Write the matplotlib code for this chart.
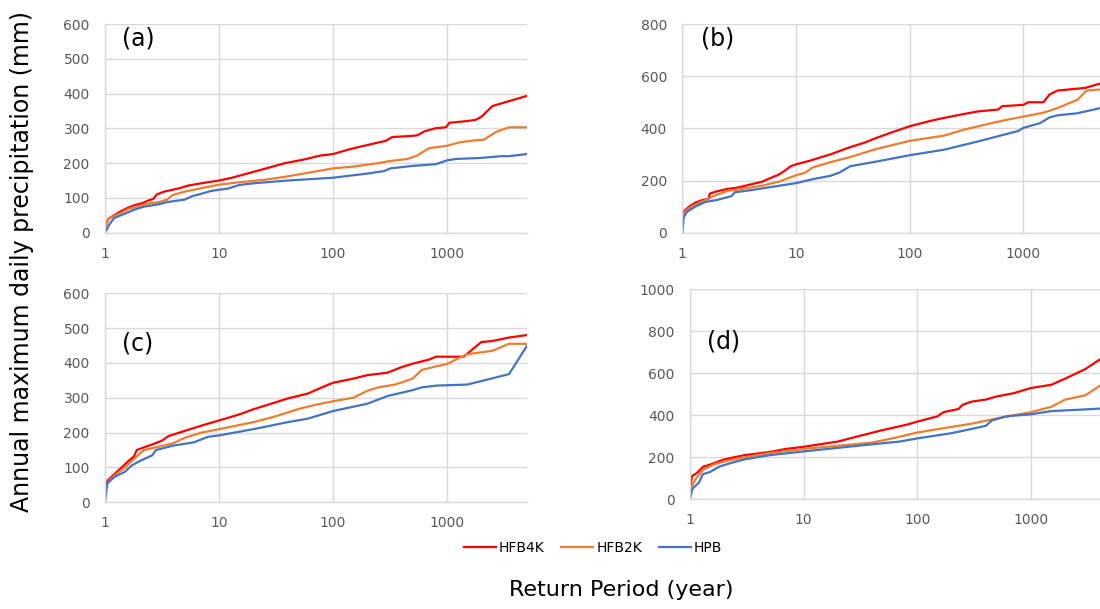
import numpy as np
import matplotlib
matplotlib.use("Agg")
import matplotlib.pyplot as plt

# return period (year) / annual max daily precipitation (mm), per panel and run
series_names = ["HFB4K", "HFB2K", "HPB"]
series_colors = ["#FF0000", "#ED7D31", "#4472C4"]

# (a)
a_t_4k = [1, 1.07, 1.2, 1.38, 1.6, 1.85, 2.13, 2.38, 2.65, 2.85, 3.3, 4.4, 5.45, 7.3, 10, 13, 18.6, 26.7,
          38, 55, 78, 100, 140, 200, 290, 330, 480, 550, 640, 790, 980, 1050, 1400, 1770, 2000, 2500, 3400, 5000]
a_v_4k = [15, 40, 50, 62, 72, 80, 85, 92, 97, 110, 118, 127, 136, 143, 150, 158, 172, 186,
          200, 210, 222, 226, 240, 252, 264, 275, 278, 280, 292, 300, 303, 316, 320, 324, 333, 364, 377, 393]
a_t_2k = [1, 1.07, 1.2, 1.4, 1.6, 2, 2.5, 3, 3.5, 3.9, 5, 7, 10, 15, 25, 40, 60, 100, 150, 250, 300,
          450, 550, 620, 700, 1000, 1300, 1800, 2100, 2700, 3500, 5000]
a_v_2k = [10, 40, 48, 58, 68, 77, 85, 88, 95, 108, 118, 128, 138, 145, 152, 162, 172, 185, 190, 200, 205,
          212, 222, 233, 243, 250, 260, 266, 267, 290, 303, 303]
a_t_pb = [1, 1.1, 1.2, 1.5, 1.8, 2.2, 3, 3.5, 5, 5.8, 7, 8.5, 12, 15, 20, 40, 100, 150, 200, 280, 320,
          500, 800, 1000, 1200, 2000, 3000, 3500, 5000]
a_v_pb = [0, 25, 42, 55, 66, 75, 82, 88, 95, 105, 112, 120, 127, 137, 142, 150, 158, 165, 170, 177, 185,
          192, 197, 208, 212, 215, 220, 220, 226]

# (b)
b_t_4k = [1, 1.05, 1.15, 1.3, 1.5, 1.7, 1.75, 2, 2.5, 3, 4, 5, 6, 7, 8, 9, 10, 13, 20, 30, 40, 50, 70,
          100, 150, 200, 300, 400, 600, 650, 1000, 1100, 1500, 1700, 2000, 3500, 5000]
b_v_4k = [60, 85, 100, 115, 125, 130, 150, 158, 168, 172, 185, 195, 210, 222, 238, 255, 262, 275, 300, 328,
          345, 362, 385, 408, 428, 440, 455, 465, 472, 485, 490, 500, 500, 530, 545, 555, 575]
b_t_2k = [1, 1.05, 1.2, 1.5, 2, 2.5, 3, 5, 7, 10, 12, 14, 20, 30, 50, 100, 200, 300, 500, 700, 1000,
          1500, 2000, 3000, 3600, 5000]
b_v_2k = [50, 80, 100, 120, 145, 160, 165, 180, 195, 220, 230, 250, 270, 290, 320, 352, 372, 395, 418,
          432, 445, 460, 478, 510, 545, 550]
b_t_pb = [1, 1.03, 1.1, 1.3, 1.6, 2, 2.7, 2.9, 4, 6, 10, 14, 20, 24, 30, 50, 100, 200, 400, 600, 900,
          1000, 1400, 1700, 2000, 3000, 5000]
b_v_pb = [0, 60, 80, 100, 118, 125, 140, 155, 163, 175, 190, 205, 218, 230, 255, 272, 297, 318, 350,
          370, 390, 402, 420, 442, 450, 458, 480]

# (c)
c_t_4k = [1, 1.05, 1.2, 1.4, 1.6, 1.8, 1.9, 2.3, 2.8, 3.2, 3.6, 5, 7, 10, 15, 20, 30, 40, 60, 80, 100,
          150, 200, 300, 400, 500, 700, 800, 1400, 2000, 2500, 3500, 5000]
c_v_4k = [40, 62, 80, 100, 118, 132, 150, 160, 170, 178, 190, 205, 220, 235, 252, 267, 285, 298, 312,
          330, 343, 355, 365, 372, 388, 398, 410, 418, 418, 460, 463, 473, 480]
c_t_2k = [1, 1.1, 1.3, 1.5, 1.8, 2.2, 3, 4, 5, 7, 10, 20, 30, 50, 70, 100, 150, 200, 250, 350, 500,
          600, 800, 1000, 1200, 1500, 2500, 3500, 5000]
c_v_2k = [40, 65, 85, 100, 125, 150, 160, 170, 185, 200, 210, 230, 245, 268, 280, 290, 300, 320, 330,
          338, 355, 380, 390, 397, 410, 425, 435, 455, 455]
c_t_pb = [1, 1.05, 1.2, 1.5, 1.7, 2, 2.6, 2.8, 4, 6, 8, 10, 20, 40, 60, 100, 200, 300, 500, 600, 800,
          1500, 2000, 3500, 5000]
c_v_pb = [0, 55, 72, 88, 105, 118, 135, 150, 163, 172, 188, 192, 210, 230, 240, 262, 283, 305, 322,
          330, 335, 338, 348, 368, 448]

# (d)
d_t_4k = [1, 1.04, 1.15, 1.3, 1.5, 2, 3, 5, 7, 10, 20, 30, 50, 80, 100, 150, 170, 230, 250, 300, 400,
          500, 700, 1000, 1500, 2000, 3000, 5000]
d_v_4k = [50, 110, 125, 155, 165, 190, 210, 225, 240, 250, 275, 300, 330, 355, 370, 395, 415, 430, 450,
          465, 475, 490, 505, 530, 545, 575, 620, 700]
d_t_2k = [1, 1.1, 1.3, 1.6, 2, 3, 5, 10, 20, 40, 60, 100, 200, 300, 450, 700, 1000, 1500, 2000, 3000, 5000]
d_v_2k = [40, 90, 140, 165, 180, 200, 220, 240, 255, 270, 290, 318, 345, 360, 380, 400, 415, 440, 475,
          495, 575]
d_t_pb = [1, 1.05, 1.2, 1.3, 1.5, 1.8, 2.2, 3, 5, 10, 20, 40, 70, 100, 200, 300, 400, 450, 600, 1000,
          1500, 3000, 5000]
d_v_pb = [0, 50, 80, 120, 130, 155, 170, 190, 210, 228, 245, 262, 275, 290, 315, 335, 350, 375, 395,
          405, 420, 428, 435]

panels = [
    ("(a)", [(a_t_4k, a_v_4k), (a_t_2k, a_v_2k), (a_t_pb, a_v_pb)], 600, 100),
    ("(b)", [(b_t_4k, b_v_4k), (b_t_2k, b_v_2k), (b_t_pb, b_v_pb)], 800, 200),
    ("(c)", [(c_t_4k, c_v_4k), (c_t_2k, c_v_2k), (c_t_pb, c_v_pb)], 600, 100),
    ("(d)", [(d_t_4k, d_v_4k), (d_t_2k, d_v_2k), (d_t_pb, d_v_pb)], 1000, 200),
]

W, H = 1100, 609
# axes boxes in pixels: left, top, width, height
boxes = [(105, 24, 421.7, 208.7), (682.3, 24, 420.6, 208.7),
         (105, 293.3, 421.7, 209), (690, 289.3, 420.6, 210)]
letter_pos = [(0.04, 0.93), (0.045, 0.93), (0.04, 0.76), (0.04, 0.75)]

fig = plt.figure(figsize=(W / 100, H / 100), dpi=100)
grid_c = "#D9D9D9"
txt_c = "#595959"

for (label, data, ymax, ystep), (l, t, w, h), (lx, ly) in zip(panels, boxes, letter_pos):
    ax = fig.add_axes([l / W, 1 - (t + h) / H, w / W, h / H])
    for (tt, vv), name, col in zip(data, series_names, series_colors):
        ax.plot(tt, vv, color=col, lw=1.6, label=name, solid_joinstyle="round")
    ax.set_xscale("log")
    ax.set_xlim(1, 5000)
    ax.set_ylim(0, ymax)
    ax.set_xticks([1, 10, 100, 1000])
    ax.set_xticklabels(["1", "10", "100", "1000"])
    ax.minorticks_off()
    ax.set_yticks(np.arange(0, ymax + 1, ystep))
    ax.grid(True, color=grid_c, lw=1)
    ax.set_axisbelow(True)
    for s in ["top", "right"]:
        ax.spines[s].set_visible(False)
    for s in ["left", "bottom"]:
        ax.spines[s].set_color(grid_c)
        ax.spines[s].set_linewidth(1)
    ax.tick_params(length=0, labelsize=10, colors=txt_c)
    ax.tick_params(axis="y", pad=11)
    ax.tick_params(axis="x", pad=10)
    ax.text(lx, ly, label, transform=ax.transAxes, fontsize=17, va="center", ha="left", color="black")
    if label == "(a)":
        handles, names = ax.get_legend_handles_labels()

fig.legend(handles, names, loc="center", bbox_to_anchor=(593 / W, 1 - 548 / H), ncol=3,
           frameon=False, fontsize=10, handlelength=2.3, handletextpad=0.2, columnspacing=1.2)
fig.text(22 / W, 1 - 261 / H, "Annual maximum daily precipitation (mm)", rotation=90,
         fontsize=17, ha="center", va="center")
fig.text(621 / W, 1 - 590 / H, "Return Period (year)", fontsize=16, ha="center", va="center")

fig.savefig("out.png", dpi=100)
